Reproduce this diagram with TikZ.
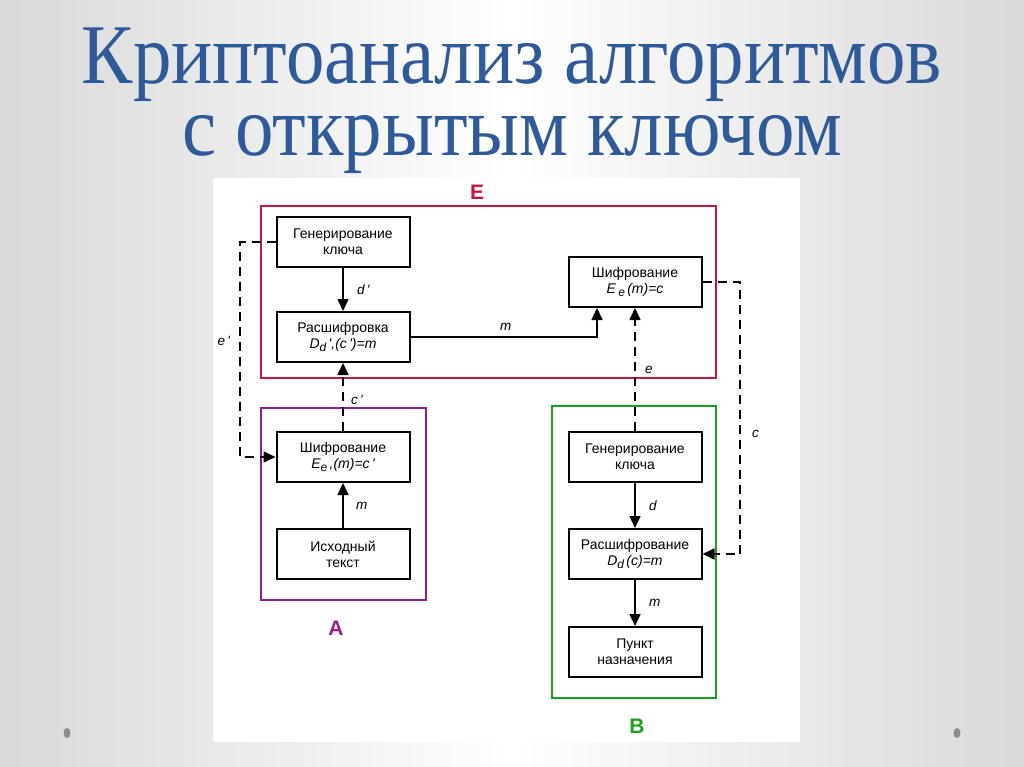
\documentclass[tikz,border=0pt]{standalone}
\usepackage{fontspec}
\setmainfont{Liberation Serif}
\newfontfamily\boxfont{Liberation Sans}
\usetikzlibrary{arrows.meta, positioning, calc}
\definecolor{titleblue}{HTML}{2E5A9A}
\definecolor{bgside}{HTML}{D9D9D9}
\definecolor{dotgray}{HTML}{8C8C8C}
\definecolor{framered}{HTML}{C4173F}
\definecolor{framepurple}{HTML}{8E1E8E}
\definecolor{framegreen}{HTML}{1E9E1E}
\newcommand{\dnsub}[1]{\raisebox{-0.5ex}{\fontsize{12}{12}\selectfont #1}}
\tikzset{
  blockbox/.style={draw=black, line width=2pt, minimum width=133pt, minimum height=50pt,
    align=center, inner sep=0pt, font=\boxfont\fontsize{14}{16}\selectfont},
  groupframe/.style={draw=#1, line width=2pt, inner sep=0pt},
  framelabel/.style={text=#1, font=\boxfont\bfseries\fontsize{21}{21}\selectfont},
  flowarrow/.style={line width=1.6pt, -{Triangle[length=12pt,width=11pt]}},
  dasharrow/.style={line width=1.6pt, dash pattern=on 9pt off 6pt, -{Triangle[length=12pt,width=11pt]}},
  sig/.style={font=\boxfont\itshape\fontsize{13.5}{15}\selectfont},
  titleline/.style={titleblue, anchor=base, inner sep=0pt, font=\fontsize{85}{85}\selectfont}
}
\begin{document}
\begin{tikzpicture}[x=1pt, y=-1pt]
  \useasboundingbox (0,0) rectangle (1024,767);
  % Slide background
  \shade[left color=bgside, right color=bgside, middle color=white] (0,0) rectangle (1024,767);
  \fill[dotgray] (67,733) ellipse (3.5 and 5);
  \fill[dotgray] (957,733) ellipse (3.5 and 5);

  % Title
  \node[titleline, text height=58pt, text depth=17pt] (title1) at (512,84) {\scalebox{0.905}[1]{Криптоанализ алгоритмов}};
  \node[titleline, text height=40pt, text depth=17pt] (title2) at (512,156) {\scalebox{0.905}[1]{с открытым ключом}};

  % Figure panel
  \fill[white] (213,178) rectangle (800,742);

  % Group frames
  \node[groupframe=framered, minimum width=455pt, minimum height=172pt] (frameE) at (488.5,292) {};
  \node[groupframe=framepurple, minimum width=165pt, minimum height=192pt] (frameA) at (343.5,504) {};
  \node[groupframe=framegreen, minimum width=164pt, minimum height=292pt] (frameB) at (634,552) {};
  \node[framelabel=framered] (labE) at (477,192) {E};
  \node[framelabel=framepurple] (labA) at (336,628) {A};
  \node[framelabel=framegreen] (labB) at (637,726) {B};

  % Blocks of E
  \node[blockbox] (genE) at (343,242) {Генерирование\\ключа};
  \node[blockbox] (rasE) at (343,337) {Расшифровка\\{\itshape D\dnsub{d}\,',(c\,')=m}};
  \node[blockbox] (shifE) at (635,282) {Шифрование\\{\itshape E\,\dnsub{e}\,(m)=c}};

  % Blocks of A
  \node[blockbox] (shifA) at (343,457) {Шифрование\\{\itshape E\dnsub{e}\,,(m)=c\,'}};
  \node[blockbox] (iskh) at (343,554) {Исходный\\текст};

  % Blocks of B
  \node[blockbox] (genB) at (635,457) {Генерирование\\ключа};
  \node[blockbox] (rasB) at (635,554) {Расшифрование\\{\itshape D\dnsub{d}\,(c)=m}};
  \node[blockbox] (punkt) at (635,652) {Пункт\\назначения};

  % Solid flows
  \draw[flowarrow] (genE) -- node[sig, right=10pt] {d\,'} (rasE);
  \draw[flowarrow] (rasE.east) -| node[sig, pos=0.255, above=2pt] {m} ([xshift=-38pt]shifE.south);
  \draw[flowarrow] (iskh) -- node[sig, right=9pt] {m} (shifA);
  \draw[flowarrow] (genB) -- node[sig, right=10pt] {d} (rasB);
  \draw[flowarrow] (rasB) -- node[sig, right=10pt] {m} (punkt);

  % Dashed flows
  \coordinate (eturn) at (240,242);
  \coordinate (cturn) at (740,282);
  \draw[dasharrow] (genB) -- node[sig, pos=0.5, right=6pt] {e} (shifE);
  \draw[dasharrow] (shifA) -- node[sig, pos=0.45, right=4pt] {c\,'} (rasE);
  \draw[dasharrow] (genE.west) -- (eturn) |- node[sig, pos=0.23, left=6pt] {e\,'} (shifA.west);
  \draw[dasharrow] (shifE.east) -- (cturn) |- node[sig, pos=0.28, right=8pt] {c} (rasB.east);
\end{tikzpicture}
\end{document}
